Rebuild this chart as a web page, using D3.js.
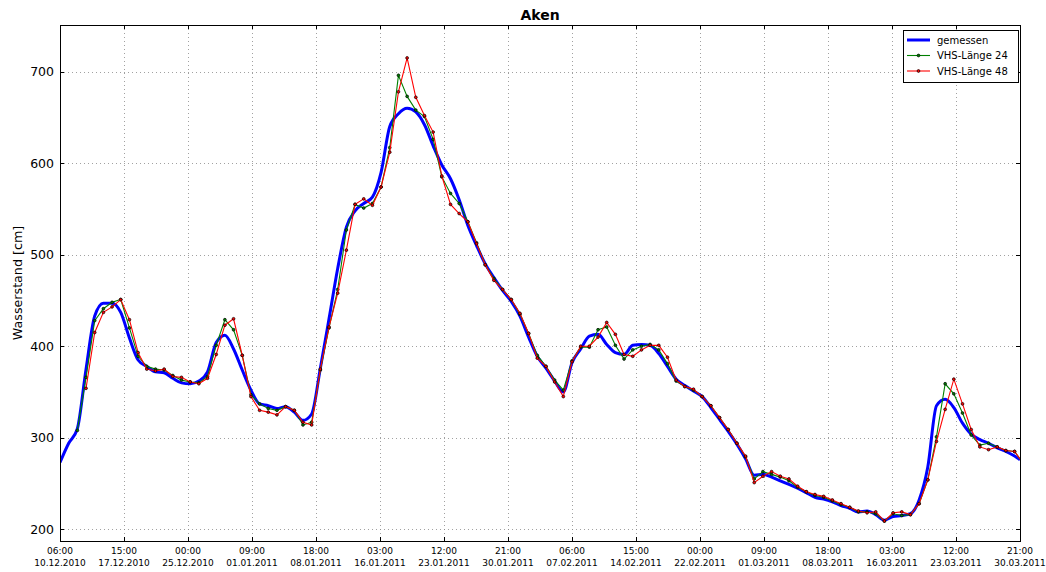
<!DOCTYPE html>
<html><head><meta charset="utf-8">
<script src="https://cdn.jsdelivr.net/npm/d3@7"></script>
<style>
body{margin:0;background:#fff}
svg{display:block}
text{font-family:"DejaVu Sans",sans-serif;fill:#000}
</style>
</head><body>
<svg id="chart" width="1046" height="572"></svg>
<script>
const chartTitle = "Aken";
const yLabel = "Wasserstand [cm]";
const seriesNames = ["gemessen", "VHS-Länge 24", "VHS-Länge 48"];
const seriesColors = ["#0000ff", "#008000", "#ff0000"];
const yTicks = [200, 300, 400, 500, 600, 700];
const yDomain = [187.2, 751];
const xTickTimes = ["2010-12-10T06:00","2010-12-17T15:00","2010-12-25T00:00","2011-01-01T09:00",
  "2011-01-08T18:00","2011-01-16T03:00","2011-01-23T12:00","2011-01-30T21:00","2011-02-07T06:00",
  "2011-02-14T15:00","2011-02-22T00:00","2011-03-01T09:00","2011-03-08T18:00","2011-03-16T03:00",
  "2011-03-23T12:00","2011-03-30T21:00"];

// measured water level: daily values from start, plus a final reading at end
const gemessenStart = "2010-12-10T06:00";
const gemessenEnd = "2011-03-30T21:00";
const gemessen = [273,294,310,375,433,447,447,437,409,385,
  378,372,371,365,360,359,362,372,404,412,
  397,374,352,337,335,332,334,328,319,326,
  376,430,485,530,548,556,563,590,640,654,
  660,656,642,619,598,583,560,532,510,490,
  475,461,449,433,410,389,376,362,350,382,
  397,411,413,402,393,391,401,402,401,392,
  378,364,357,351,345,333,320,307,293,277,
  259,260,257,253,249,245,240,235,233,230,
  226,223,219,220,216,210,214,215,217,232,
  268,335,342,333,316,304,298,294,289,285,
  280,276];

// forecasts: daily values
const vhs24Start = "2010-12-12T06:00";
const vhs24 = [308,366,428,441,448,451,420,389,378,375,
  374,368,363,361,360,367,401,429,418,390,
  347,337,332,330,334,330,314,317,374,420,
  462,527,555,551,556,574,617,696,673,658,
  651,626,585,567,556,536,513,489,474,462,
  451,435,414,390,378,363,352,384,399,399,
  418,421,401,386,396,400,402,396,381,362,
  356,352,345,335,322,309,294,279,255,263,
  260,257,253,246,241,237,235,231,227,224,
  219,219,217,209,217,215,216,228,254,301,
  359,348,327,303,292,294,290,286,285,272];

const vhs48Start = "2010-12-13T06:00";
const vhs48 = [354,415,437,443,451,429,393,375,373,
  375,367,366,361,359,365,391,423,430,390,
  345,330,328,325,334,330,317,314,375,421,
  458,505,555,561,554,574,612,678,715,672,
  652,634,586,555,545,536,512,489,472,462,
  451,436,414,387,378,361,345,383,400,400,
  410,426,413,391,389,396,401,401,388,363,
  356,353,345,335,322,309,294,280,251,258,
  263,258,255,247,241,238,236,232,228,224,
  220,218,219,209,218,219,216,228,254,296,
  331,364,337,309,290,287,290,286,285,272];

const parse = d3.utcParse("%Y-%m-%dT%H:%M");
const fmtTime = d3.utcFormat("%H:%M");
const fmtDate = d3.utcFormat("%d.%m.%Y");

function daily(startStr, values) {
  const s = parse(startStr);
  return values.map((v, i) => ({t: d3.utcHour.offset(s, 24 * i), v}));
}
const gData = daily(gemessenStart, gemessen.slice(0, -1));
gData.push({t: parse(gemessenEnd), v: gemessen[gemessen.length - 1]});
const d24 = daily(vhs24Start, vhs24);
const d48 = daily(vhs48Start, vhs48);

const L = 60, R = 1020, T = 25, B = 541;
const ticks = xTickTimes.map(parse);
const x = d3.scaleUtc().domain([ticks[0], ticks[ticks.length - 1]]).range([L, R]);
const y = d3.scaleLinear().domain(yDomain).range([B, T]);

const svg = d3.select("#chart");
svg.append("rect").attr("width", 1046).attr("height", 572).attr("fill", "#fff");

// grid
const grid = svg.append("g").attr("stroke", "#8a8a8a").attr("stroke-width", 0.8)
  .attr("stroke-dasharray", "1,3").attr("shape-rendering", "crispEdges");
ticks.forEach(t => grid.append("line").attr("x1", Math.round(x(t)) + 0.5).attr("x2", Math.round(x(t)) + 0.5)
  .attr("y1", T).attr("y2", B));
yTicks.forEach(v => grid.append("line").attr("x1", L).attr("x2", R)
  .attr("y1", Math.round(y(v)) + 0.5).attr("y2", Math.round(y(v)) + 0.5));

svg.append("clipPath").attr("id", "clip").append("rect")
  .attr("x", L).attr("y", T).attr("width", R - L).attr("height", B - T);
const plot = svg.append("g").attr("clip-path", "url(#clip)");

const lineSmooth = d3.line().x(d => x(d.t)).y(d => y(d.v)).curve(d3.curveMonotoneX);
const lineLin = d3.line().x(d => x(d.t)).y(d => y(d.v));

plot.append("path").datum(gData).attr("d", lineSmooth).attr("fill", "none")
  .attr("stroke", seriesColors[0]).attr("stroke-width", 3).attr("stroke-linejoin", "round");

[[d24, seriesColors[1]], [d48, seriesColors[2]]].forEach(([data, c]) => {
  plot.append("path").datum(data).attr("d", lineLin).attr("fill", "none")
    .attr("stroke", c).attr("stroke-width", 1.1);
  plot.append("g").selectAll("circle").data(data).join("circle")
    .attr("cx", d => x(d.t)).attr("cy", d => y(d.v)).attr("r", 1.4)
    .attr("fill", c).attr("stroke", "#000").attr("stroke-width", 0.7);
});

// frame
svg.append("rect").attr("x", L + 0.5).attr("y", T + 0.5).attr("width", R - L).attr("height", B - T)
  .attr("fill", "none").attr("stroke", "#000").attr("stroke-width", 1).attr("shape-rendering", "crispEdges");

// ticks (inward, all four sides)
const tk = svg.append("g").attr("stroke", "#000").attr("stroke-width", 1).attr("shape-rendering", "crispEdges");
ticks.forEach(t => {
  const px = Math.round(x(t)) + 0.5;
  tk.append("line").attr("x1", px).attr("x2", px).attr("y1", B).attr("y2", B - 4);
  tk.append("line").attr("x1", px).attr("x2", px).attr("y1", T).attr("y2", T + 4);
});
yTicks.forEach(v => {
  const py = Math.round(y(v)) + 0.5;
  tk.append("line").attr("x1", L).attr("x2", L + 4).attr("y1", py).attr("y2", py);
  tk.append("line").attr("x1", R).attr("x2", R - 4).attr("y1", py).attr("y2", py);
});

// x tick labels
ticks.forEach(t => {
  const tx = svg.append("text").attr("x", x(t)).attr("text-anchor", "middle")
    .attr("font-size", "9px").attr("fill", "#000");
  tx.append("tspan").attr("x", x(t)).attr("y", 553.5).text(fmtTime(t));
  tx.append("tspan").attr("x", x(t)).attr("y", 566).text(fmtDate(t));
});
// y tick labels
yTicks.forEach(v => {
  svg.append("text").attr("x", 54).attr("y", y(v)).attr("dy", "0.36em")
    .attr("text-anchor", "end").attr("font-size", "12.5px").text(v);
});

svg.append("text").attr("x", (L + R) / 2).attr("y", 20).attr("text-anchor", "middle")
  .attr("font-size", "14px").attr("font-weight", "bold").text(chartTitle);
svg.append("text").attr("transform", `translate(22,${(T + B) / 2}) rotate(-90)`)
  .attr("text-anchor", "middle").attr("font-size", "12.7px").text(yLabel);

// legend
const lg = svg.append("g");
lg.append("rect").attr("x", 903.5).attr("y", 30.5).attr("width", 115).attr("height", 52)
  .attr("fill", "#fff").attr("stroke", "#000").attr("stroke-width", 1).attr("shape-rendering", "crispEdges");
const ly = [40, 55.5, 71];
seriesNames.forEach((n, i) => {
  lg.append("line").attr("x1", 907).attr("x2", 930).attr("y1", ly[i]).attr("y2", ly[i])
    .attr("stroke", seriesColors[i]).attr("stroke-width", i === 0 ? 3 : 1.1);
  if (i > 0) lg.append("circle").attr("cx", 918.5).attr("cy", ly[i]).attr("r", 1.4)
    .attr("fill", seriesColors[i]).attr("stroke", "#000").attr("stroke-width", 0.7);
  lg.append("text").attr("x", 937).attr("y", ly[i]).attr("dy", "0.36em")
    .attr("font-size", "10px").text(n);
});
</script>
</body></html>
